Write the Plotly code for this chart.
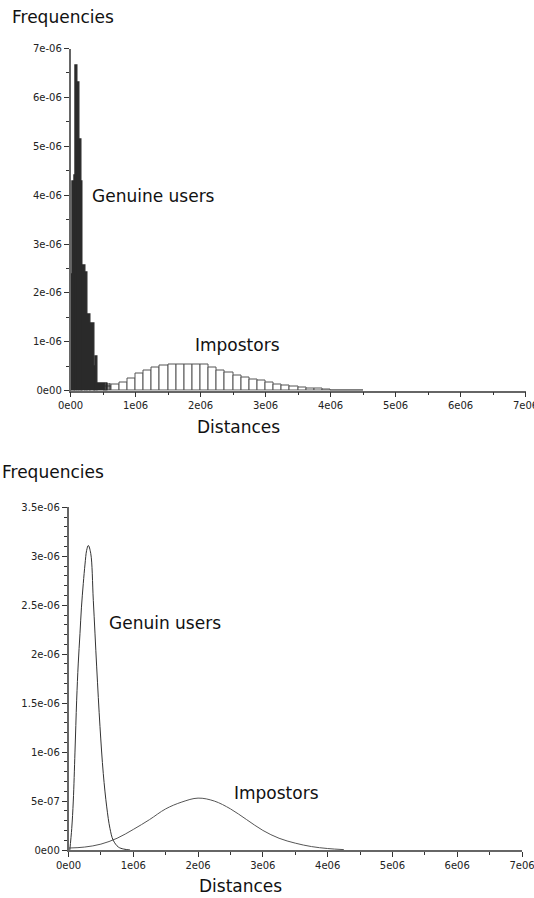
import plotly.graph_objects as go

W, H = 534, 898

# ---------------- data ----------------
# Top: histograms (distances in units of 1e3, frequencies in 1e-06)
genuine_edges_k = [0, 30, 55, 75, 100, 110, 140, 175, 190, 230, 265, 315, 365, 392, 418, 545]
genuine_heights = [2.37, 4.27, 4.41, 6.66, 4.79, 6.30, 5.13, 4.27, 2.57, 2.41, 1.55, 1.38, 0.49, 0.70, 0.15]
genuine_spikes_k = [562, 587, 612]
genuine_spike_heights = [0.15, 0.15, 0.15]

impostor_start_k = 500
impostor_bin_k = 125
impostor_heights = [0.08, 0.12, 0.17, 0.25, 0.36, 0.41, 0.47, 0.51,
                    0.54, 0.54, 0.54, 0.54, 0.54, 0.47, 0.42, 0.37,
                    0.32, 0.27, 0.22, 0.20, 0.17, 0.13, 0.10, 0.08,
                    0.06, 0.05, 0.035, 0.02, 0.012, 0.01, 0.008, 0.006]

# Bottom: density curves (distance in 1e06, density in 1e-06)
gen_curve_x = [0.02, 0.05, 0.074, 0.10, 0.126, 0.15, 0.177, 0.20, 0.228, 0.255, 0.28, 0.306,
               0.343, 0.383, 0.435, 0.486, 0.537, 0.59, 0.64, 0.69, 0.77, 0.85, 0.95]
gen_curve_y = [0.0, 0.22, 0.50, 1.00, 1.53, 1.90, 2.21, 2.48, 2.72, 2.92, 3.06, 3.11,
               3.03, 2.55, 1.87, 1.26, 0.78, 0.44, 0.22, 0.10, 0.03, 0.01, 0.0]
imp_curve_x = [0.0, 0.25, 0.5, 0.75, 1.0, 1.25, 1.5, 1.75, 2.0, 2.25, 2.5, 2.75,
               3.0, 3.25, 3.5, 3.75, 4.0, 4.25]
imp_curve_y = [0.02, 0.03, 0.06, 0.12, 0.21, 0.31, 0.42, 0.49, 0.53, 0.50, 0.42, 0.31,
               0.20, 0.12, 0.07, 0.035, 0.015, 0.004]

x_ticks = [0, 1e6, 2e6, 3e6, 4e6, 5e6, 6e6, 7e6]
x_ticklabels = ["0e00", "1e06", "2e06", "3e06", "4e06", "5e06", "6e06", "7e06"]
top_y_ticks = [0, 1e-6, 2e-6, 3e-6, 4e-6, 5e-6, 6e-6, 7e-6]
top_y_ticklabels = ["0e00", "1e-06", "2e-06", "3e-06", "4e-06", "5e-06", "6e-06", "7e-06"]
bot_y_ticks = [0, 0.5e-6, 1e-6, 1.5e-6, 2e-6, 2.5e-6, 3e-6, 3.5e-6]
bot_y_ticklabels = ["0e00", "5e-07", "1e-06", "1.5e-06", "2e-06", "2.5e-06", "3e-06", "3.5e-06"]

# ---------------- figure ----------------
fig = go.Figure()

# impostor histogram (white boxes)
imp_x = [(impostor_start_k + (i + 0.5) * impostor_bin_k) * 1e3 for i in range(len(impostor_heights))]
fig.add_trace(go.Bar(
    x=imp_x, y=[h * 1e-6 for h in impostor_heights],
    width=[impostor_bin_k * 1e3] * len(impostor_heights),
    marker=dict(color="white", line=dict(color="#555555", width=1)),
    xaxis="x", yaxis="y", showlegend=False))

# genuine histogram (dark filled)
g_x = [(genuine_edges_k[i] + genuine_edges_k[i + 1]) / 2 * 1e3 for i in range(len(genuine_heights))]
g_w = [(genuine_edges_k[i + 1] - genuine_edges_k[i]) * 1e3 for i in range(len(genuine_heights))]
fig.add_trace(go.Bar(
    x=g_x + [s * 1e3 for s in genuine_spikes_k],
    y=[h * 1e-6 for h in genuine_heights] + [h * 1e-6 for h in genuine_spike_heights],
    width=g_w + [7e3] * len(genuine_spikes_k),
    marker=dict(color="#2a2a2a", line=dict(color="#2a2a2a", width=1.2)),
    xaxis="x", yaxis="y", showlegend=False))

# bottom curves
fig.add_trace(go.Scatter(
    x=[v * 1e6 for v in imp_curve_x], y=[v * 1e-6 for v in imp_curve_y],
    mode="lines", line=dict(color="#555555", width=1, shape="spline"),
    xaxis="x2", yaxis="y2", showlegend=False))
fig.add_trace(go.Scatter(
    x=[v * 1e6 for v in gen_curve_x], y=[v * 1e-6 for v in gen_curve_y],
    mode="lines", line=dict(color="#333333", width=1, shape="spline"),
    xaxis="x2", yaxis="y2", showlegend=False))


def px_x(p):
    return p / W


def px_y(p):
    return 1 - p / H


axis_common = dict(
    showgrid=False, zeroline=False, showline=True, linecolor="#666666", linewidth=1.5,
    ticks="outside", ticklen=5, tickwidth=1, tickcolor="#333333",
    tickfont=dict(family="DejaVu Sans", size=10, color="#222222"),
    fixedrange=True, automargin=False, ticklabeloverflow="allow",
)

fig.update_layout(
    width=W, height=H,
    margin=dict(l=0, r=0, t=0, b=0, pad=0),
    paper_bgcolor="white", plot_bgcolor="white",
    bargap=0, barmode="overlay",
    xaxis=dict(domain=[px_x(70.5), px_x(525.5)], range=[0, 7e6], anchor="y",
               tickmode="array", tickvals=x_ticks, ticktext=x_ticklabels,
               minor=dict(dtick=5e5, tick0=0, ticks="outside", ticklen=3, tickcolor="#333333", showgrid=False),
               **axis_common),
    yaxis=dict(domain=[px_y(390.7), px_y(48.5)], range=[0, 7e-6], anchor="x",
               tickmode="array", tickvals=top_y_ticks, ticktext=top_y_ticklabels,
               minor=dict(dtick=5e-7, tick0=0, ticks="outside", ticklen=3, tickcolor="#333333", showgrid=False),
               **axis_common),
    xaxis2=dict(domain=[px_x(68.5), px_x(522)], range=[0, 7e6], anchor="y2",
                tickmode="array", tickvals=x_ticks, ticktext=x_ticklabels,
                minor=dict(dtick=5e5, tick0=0, ticks="outside", ticklen=3, tickcolor="#333333", showgrid=False),
                **axis_common),
    yaxis2=dict(domain=[px_y(850), px_y(507.3)], range=[0, 3.5e-6], anchor="x2",
                tickmode="array", tickvals=bot_y_ticks, ticktext=bot_y_ticklabels,
                minor=dict(dtick=1e-7, tick0=0, ticks="outside", ticklen=3, tickcolor="#333333", showgrid=False),
                **axis_common),
)

font = dict(family="DejaVu Sans", size=17, color="#111111")
labels = [
    ("Frequencies", 10, 17, "left"),
    ("Genuine users", 90, 196, "left"),
    ("Impostors", 237, 345, "center"),
    ("Distances", 238, 427, "center"),
    ("Frequencies", 0, 472, "left"),
    ("Genuin users", 107, 623, "left"),
    ("Impostors", 276, 793, "center"),
    ("Distances", 240, 886, "center"),
]
for txt, xp, yp, anc in labels:
    fig.add_annotation(text=txt, xref="paper", yref="paper", x=px_x(xp), y=px_y(yp),
                       xanchor=anc, yanchor="middle", showarrow=False, font=font)

fig.write_html("out.html")
